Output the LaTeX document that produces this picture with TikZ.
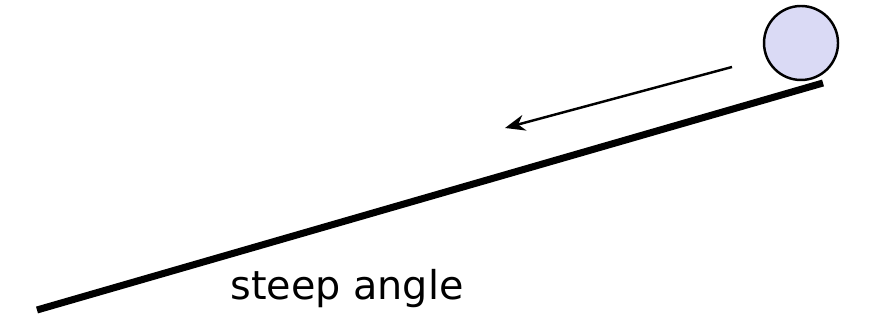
\documentclass[tikz,border=0pt]{standalone}
\usepackage{fontspec}
\usepackage{tikz}
\usetikzlibrary{arrows.meta, positioning}
\newfontfamily\labelfont{DejaVu Sans}
\definecolor{balllilac}{RGB}{218, 218, 245}
\tikzstyle{slope} = [line width=2pt, black]
\tikzstyle{ball} = [circle, draw=black, fill=balllilac, line width=0.7pt, minimum size=0.74cm, inner sep=0pt]
\tikzstyle{arrow} = [-{Stealth[length=2mm, width=1.6mm]}, line width=0.7pt]

\begin{document}
\begin{tikzpicture}
    \useasboundingbox (0, 0) rectangle (8.73, 3.21);
    % Incline
    \coordinate (low) at (0.37, 0.11);
    \coordinate (high) at (8.23, 2.38);
    \draw[slope] (low) -- (high);
    
    % Ball on top
    \node[ball] (ball) at (8.01, 2.78) {};
    
    % Direction of motion
    \coordinate (start) at (7.32, 2.54);
    \coordinate (stop) at (5.05, 1.93);
    \draw[arrow] (start) -- (stop);
    
    % Label
    \node[anchor=base, inner sep=0pt, font=\labelfont\fontsize{11.3}{13}\selectfont] (label) at (3.47, 0.21) {steep angle};
\end{tikzpicture}
\end{document}
